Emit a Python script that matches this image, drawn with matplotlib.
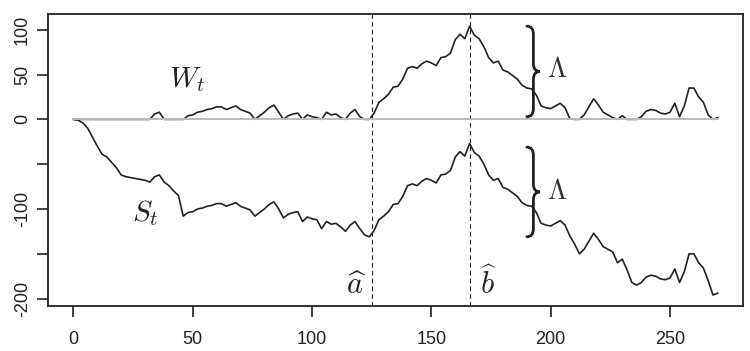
import matplotlib
matplotlib.use("Agg")
import matplotlib.pyplot as plt
import numpy as np
from matplotlib.path import Path
from matplotlib.patches import PathPatch

plt.rcParams['font.family'] = ['Liberation Sans', 'DejaVu Sans']
plt.rcParams['mathtext.fontset'] = 'cm'

# time grid (every 2nd step of the walk)
t = np.arange(0, 271, 2)

# cumulative sum S_t
s_vals = [0, -1, -4, -10, -20, -30, -39, -42, -48, -54,
          -62, -64, -65, -66, -67, -68, -70, -64, -62, -70,
          -74, -80, -85, -108, -104, -103, -100, -99, -97, -96,
          -94, -94, -97, -95, -93, -97, -99, -101, -108, -104,
          -100, -95, -92, -100, -110, -106, -104, -103, -114, -109,
          -111, -112, -122, -114, -117, -116, -120, -125, -118, -114,
          -122, -129, -131, -124, -112, -108, -103, -95, -94, -86,
          -74, -72, -74, -69, -66, -68, -71, -62, -61, -57,
          -42, -36, -41, -27, -37, -41, -50, -62, -68, -66,
          -76, -78, -82, -86, -93, -96, -97, -104, -116, -118,
          -119, -116, -113, -118, -130, -139, -150, -145, -136, -127,
          -134, -142, -145, -148, -160, -156, -168, -182, -185, -182,
          -176, -174, -175, -178, -179, -177, -167, -182, -170, -150,
          -150, -160, -166, -180, -196, -194]

# CUSUM statistic W_t
w_vals = [0, 0, 0, 0, 0, 0, 0, 0, 0, 0,
          0, 0, 0, 0, 0, 0, 0, 6, 8, 0,
          0, 0, 0, 0, 4, 5, 8, 9, 11, 12,
          14, 14, 11, 13, 15, 11, 9, 7, 0, 4,
          8, 13, 16, 8, 0, 4, 6, 7, 0, 5,
          3, 2, 0, 8, 5, 6, 2, 0, 7, 11,
          3, 0, 0, 7, 19, 23, 28, 36, 37, 45,
          57, 59, 57, 62, 65, 63, 60, 69, 70, 74,
          89, 95, 90, 104, 94, 90, 81, 69, 63, 65,
          55, 53, 49, 45, 38, 35, 34, 27, 15, 13,
          12, 15, 18, 13, 1, 0, 0, 5, 14, 23,
          16, 8, 5, 2, 0, 4, 0, 0, 0, 3,
          9, 11, 10, 7, 6, 8, 18, 3, 15, 35,
          35, 25, 19, 5, 0, 2]

a_hat = 125
b_hat = 166


def brace(ax, x, y0, y1, w, q):
    ym = (y0 + y1) / 2
    verts = [(x, y1), (x + w / 2, y1), (x + w / 2, y1 - q),
             (x + w / 2, ym + q),
             (x + w / 2, ym), (x + w, ym),
             (x + w / 2, ym), (x + w / 2, ym - q),
             (x + w / 2, y0 + q),
             (x + w / 2, y0), (x, y0)]
    codes = [Path.MOVETO, Path.CURVE3, Path.CURVE3,
             Path.LINETO,
             Path.CURVE3, Path.CURVE3,
             Path.CURVE3, Path.CURVE3,
             Path.LINETO,
             Path.CURVE3, Path.CURVE3]
    ax.add_patch(PathPatch(Path(verts, codes), fill=False, lw=2.0,
                           color='#222222', capstyle='round'))


fig = plt.figure(figsize=(7.5, 3.51), dpi=100)
ax = fig.add_axes([0.0636, 0.1282, 0.9271, 0.8311])

ax.plot(t, s_vals, color='#222222', lw=1.2)
ax.plot(t, w_vals, color='#222222', lw=1.2)
ax.plot([0, 270], [0, 0], color='#bbbbbb', lw=1.4, zorder=3)

ax.axvline(a_hat, color='#222222', lw=0.8, ls=(0, (4, 3)))
ax.axvline(b_hat, color='#222222', lw=0.8, ls=(0, (4, 3)))

brace(ax, 190, 3, 104, 5.5, 9)
brace(ax, 190, -131, -31, 5.5, 9)

ax.text(47.6, 44, r'$W_t$', fontsize=21, ha='center', va='center', color='#222222')
ax.text(30, -104.5, r'$S_t$', fontsize=21, ha='center', va='center', color='#222222')
ax.text(118.4, -186, r'$\widehat{a}$', fontsize=22, ha='center', va='center', color='#222222')
ax.text(173.7, -184, r'$\widehat{b}$', fontsize=22, ha='center', va='center', color='#222222')
ax.text(202.6, 55, r'$\Lambda$', fontsize=20, ha='center', va='center', color='#333333')
ax.text(202.6, -81, r'$\Lambda$', fontsize=20, ha='center', va='center', color='#333333')

ax.set_xlim(-10.8, 280.6)
ax.set_ylim(-208.3, 117.3)
ax.set_xticks([0, 50, 100, 150, 200, 250])
ax.set_yticks([-200, -150, -100, -50, 0, 50, 100])
ax.set_yticklabels(['-200', '', '-100', '', '0', '50', '100'], rotation=90, va='center')
ax.tick_params(axis='both', length=8, width=1.2, labelsize=13, color='#222222',
               labelcolor='#222222')
ax.tick_params(axis='x', pad=10)
ax.tick_params(axis='y', pad=4)
for sp in ax.spines.values():
    sp.set_linewidth(1.3)
    sp.set_color('#222222')

fig.savefig('out.png', dpi=100)
